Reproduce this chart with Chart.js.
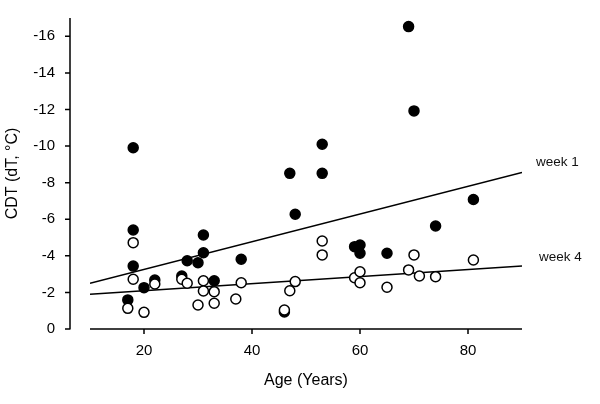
<!DOCTYPE html>
<html><head><meta charset="utf-8">
<script src="https://cdn.jsdelivr.net/npm/chart.js@4/dist/chart.umd.min.js"></script>
<style>html,body{margin:0;padding:0;background:#fff}#wrap{width:600px;height:404px}</style>
</head><body><div id="wrap"><canvas id="c" width="600" height="404"></canvas></div>
<script>
// Week 1 (filled circles)
const week1Age = [17, 18, 18, 18, 20, 22, 27, 28, 30, 31, 31, 33, 38, 46, 47, 48, 53, 53, 59, 60, 60, 65, 69, 70, 74, 81];
const week1CDT = [-1.59, -3.44, -5.41, -9.91, -2.26, -2.68, -2.90, -3.73, -3.62, -4.17, -5.14, -2.64, -3.81, -0.93, -8.51, -6.27, -8.51, -10.10, -4.50, -4.59, -4.14, -4.14, -16.53, -11.92, -5.63, -7.08];
// Week 4 (open circles)
const week4Age = [17, 18, 18, 20, 22, 27, 28, 30, 31, 31, 33, 33, 37, 38, 46, 47, 48, 53, 53, 59, 60, 60, 65, 69, 70, 71, 74, 81];
const week4CDT = [-1.13, -2.72, -4.72, -0.91, -2.46, -2.72, -2.50, -1.31, -2.64, -2.08, -2.04, -1.41, -1.64, -2.53, -1.04, -2.09, -2.59, -4.81, -4.05, -2.80, -3.13, -2.53, -2.28, -3.23, -4.05, -2.90, -2.86, -3.77];
// Regression lines (end points)
const fitAge = [10, 90];
const week1Fit = [-2.50, -8.55];
const week4Fit = [-1.90, -3.44];
const lineLabels = ['week 1', 'week 4'];
const xTicks = [20, 40, 60, 80];
const yTicks = [0, -2, -4, -6, -8, -10, -12, -14, -16];

const FONT = '"Liberation Sans", Arial, Helvetica, sans-serif';
Chart.defaults.font.family = FONT;
Chart.defaults.color = '#000';

const pts = (xs, ys) => xs.map((x, i) => ({x: x, y: ys[i]}));

const axesPlugin = {
  id: 'offsetAxes',
  afterDraw(chart) {
    const ctx = chart.ctx, a = chart.chartArea;
    const xs = chart.scales.x, ys = chart.scales.y;
    ctx.save();
    ctx.strokeStyle = '#000';
    ctx.lineWidth = 1.5;
    // y axis
    const yx = 70;
    ctx.beginPath();
    ctx.moveTo(yx, a.top); ctx.lineTo(yx, a.bottom + 0.5);
    yTicks.forEach(v => { const p = ys.getPixelForValue(v); ctx.moveTo(yx, p); ctx.lineTo(yx - 5, p); });
    ctx.stroke();
    // x axis
    ctx.beginPath();
    ctx.moveTo(a.left, a.bottom); ctx.lineTo(a.right, a.bottom);
    xTicks.forEach(v => { const p = xs.getPixelForValue(v); ctx.moveTo(p, a.bottom); ctx.lineTo(p, a.bottom + 5); });
    ctx.stroke();
    // line labels
    ctx.fillStyle = '#111';
    ctx.font = '13.5px ' + FONT;
    ctx.textAlign = 'left';
    ctx.textBaseline = 'middle';
    const ex = xs.getPixelForValue(fitAge[1]);
    ctx.fillText(lineLabels[0], ex + 14, ys.getPixelForValue(week1Fit[1]) - 10);
    ctx.fillText(lineLabels[1], ex + 17, ys.getPixelForValue(week4Fit[1]) - 9);
    ctx.restore();
  }
};

new Chart(document.getElementById('c'), {
  type: 'scatter',
  data: {
    datasets: [
      { label: 'week 4', data: pts(week4Age, week4CDT), order: 0,
        pointRadius: 5, pointBorderWidth: 1.5, pointBackgroundColor: '#fff', pointBorderColor: '#000' },
      { label: 'week 1', data: pts(week1Age, week1CDT), order: 1,
        pointRadius: 5, pointBorderWidth: 1.5, pointBackgroundColor: '#000', pointBorderColor: '#000' },
      { label: 'fit 1', data: pts(fitAge, week1Fit), order: 2, showLine: true, pointRadius: 0,
        borderColor: '#000', borderWidth: 1.5 },
      { label: 'fit 4', data: pts(fitAge, week4Fit), order: 2, showLine: true, pointRadius: 0,
        borderColor: '#000', borderWidth: 1.5 }
    ]
  },
  options: {
    responsive: false,
    animation: false,
    events: [],
    layout: { padding: { top: 18, right: 78, left: 0, bottom: 0 } },
    plugins: { legend: { display: false }, tooltip: { enabled: false } },
    scales: {
      x: {
        type: 'linear', min: 10, max: 90,
        grid: { display: false, drawTicks: false },
        border: { display: false },
        afterBuildTicks: s => { s.ticks = xTicks.map(v => ({value: v})); },
        afterFit: s => { s.height = 75; s.paddingLeft = 0; s.paddingRight = 0; },
        ticks: { padding: 13, font: { size: 15 }, color: '#000', callback: v => String(v) },
        title: { display: true, text: 'Age (Years)', font: { size: 16 }, color: '#000', padding: { top: 0, bottom: 13.4 } }
      },
      y: {
        type: 'linear', min: -17, max: 0, reverse: true,
        grid: { display: false, drawTicks: false },
        border: { display: false },
        afterBuildTicks: s => { s.ticks = yTicks.map(v => ({value: v})); },
        afterFit: s => { s.width = 90; s.paddingTop = 0; s.paddingBottom = 0; },
        ticks: { padding: 35, font: { size: 15 }, color: '#000', callback: v => String(v) },
        title: { display: true, text: 'CDT (dT, °C)', font: { size: 16 }, color: '#000', padding: { top: 3.4, bottom: 0 } }
      }
    }
  },
  plugins: [axesPlugin]
});
</script>
</body></html>
